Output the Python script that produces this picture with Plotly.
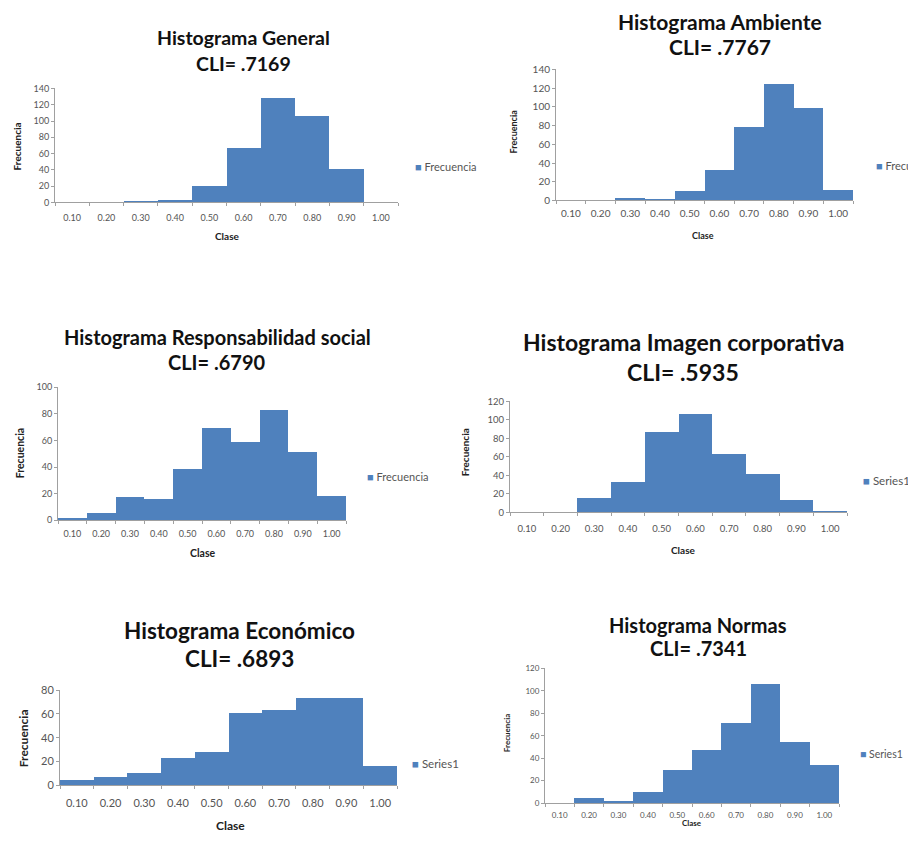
import plotly.graph_objects as go

# =========================
# DATOS
# =========================

clases = ["0.10", "0.20", "0.30", "0.40", "0.50", "0.60", "0.70", "0.80", "0.90", "1.00"]

general = [0, 0, 1, 2, 19, 66, 128, 105, 40, 0]
ambiente = [0, 0, 2, 1, 10, 32, 78, 124, 98, 11]
responsabilidad = [1, 5, 17, 16, 38, 69, 59, 83, 51, 18]
imagen = [0, 0, 15, 32, 87, 106, 63, 41, 13, 1]
economico = [4, 7, 10, 23, 28, 61, 63, 73, 73, 16]
normas = [0, 4, 1, 10, 29, 47, 71, 106, 54, 34]

titulos = [
    "Histograma General",
    "Histograma Ambiente",
    "Histograma Responsabilidad social",
    "Histograma Imagen corporativa",
    "Histograma Económico",
    "Histograma Normas",
]
cli = [".7169", ".7767", ".6790", ".5935", ".6893", ".7341"]
series = ["Frecuencia", "Frecuencia", "Frecuencia", "Series1", "Series1", "Series1"]
y_max = [140, 140, 100, 120, 80, 120]

valores = [general, ambiente, responsabilidad, imagen, economico, normas]

# =========================
# POSICIONES (pixeles de la captura)
# =========================

W, H = 916, 843
OFF_X = 8
OFF_Y, ESC_Y = 14.5, 0.985  # correccion vertical medida en la captura
AZUL = "#4f81bd"

# area de trazado x0, x1, y0 (arriba), y1 (abajo)
areas = [
    (55, 398, 88, 202),
    (556, 853, 69, 200),
    (58, 346, 387, 520),
    (510, 847, 401, 512),
    (60, 397, 690, 785),
    (545, 839, 668, 803),
]
# centro titulo x, y linea 1, y linea 2, tamano
pos_titulo = [
    (243, 37, 63, 19.5),
    (720, 21, 46, 21),
    (217, 337, 362, 20),
    (683, 342, 372, 23),
    (240, 630, 658, 22.5),
    (698, 625, 648, 20),
]
# "Frecuencia" x, y ; "Clase" x, y ; tamano
pos_ejes = [
    (17, 146, 227, 236, 10),
    (513, 131, 703, 235, 9),
    (20, 453, 202, 553, 10.5),
    (465, 452, 683, 550, 10),
    (23, 738, 230, 825, 12),
    (507, 733, 692, 823, 8),
]
# leyenda x, y, tamano
pos_leyenda = [
    (413, 166, 11),
    (874, 165, 11),
    (365, 476, 11),
    (861, 480, 11.5),
    (410, 763, 11.5),
    (858, 754, 10.5),
]
tam_tick = [9, 10, 9, 9.5, 11, 8]
sep_tick_x = [7, 4, 5, 7, 8, 4]


def px_x(v):
    return (v - OFF_X) / W


def px_y(v):
    return 1 - ((v - OFF_Y) / ESC_Y) / H


fig = go.Figure()
anotaciones = []

for i in range(6):
    n = "" if i == 0 else str(i + 1)
    x0, x1, y0, y1 = areas[i]

    fig.add_trace(
        go.Bar(
            x=clases,
            y=valores[i],
            name=series[i],
            marker_color=AZUL,
            marker_line_width=0,
            xaxis="x" + n,
            yaxis="y" + n,
            showlegend=False,
        )
    )

    fig.update_layout(
        {
            "xaxis" + n: dict(
                domain=[px_x(x0), px_x(x1)],
                anchor="y" + n,
                type="category",
                showline=True,
                linecolor="#a0a0a0",
                ticks="outside",
                tickson="boundaries",
                ticklen=3,
                tickcolor="#a0a0a0",
                ticklabelstandoff=sep_tick_x[i],
                tickfont=dict(family="Lato", size=tam_tick[i], color="#555555"),
                showgrid=False,
                fixedrange=True,
            ),
            "yaxis" + n: dict(
                domain=[px_y(y1), px_y(y0)],
                anchor="x" + n,
                range=[0, y_max[i]],
                dtick=20,
                showline=True,
                linecolor="#a0a0a0",
                ticks="outside",
                ticklen=3,
                tickcolor="#a0a0a0",
                tickfont=dict(family="Lato", size=tam_tick[i], color="#555555"),
                showgrid=False,
                zeroline=False,
                fixedrange=True,
            ),
        }
    )

    tx, ty1, ty2, ts = pos_titulo[i]
    anotaciones.append(dict(
        x=px_x(tx), y=px_y(ty1), xref="paper", yref="paper",
        text="<b>" + titulos[i] + "</b>", showarrow=False,
        font=dict(family="Lato", size=ts, color="#111111"),
        xanchor="center", yanchor="middle", borderpad=0,
    ))
    anotaciones.append(dict(
        x=px_x(tx), y=px_y(ty2), xref="paper", yref="paper",
        text="<b>CLI= " + cli[i] + "</b>", showarrow=False,
        font=dict(family="Lato", size=ts, color="#111111"),
        xanchor="center", yanchor="middle", borderpad=0,
    ))

    # titulos de ejes
    fx, fy, cx, cy, es = pos_ejes[i]
    anotaciones.append(dict(
        x=px_x(fx), y=px_y(fy), xref="paper", yref="paper",
        text="<b>Frecuencia</b>", textangle=-90, showarrow=False,
        font=dict(family="Lato", size=es, color="#222222"),
        xanchor="center", yanchor="middle",
    ))
    anotaciones.append(dict(
        x=px_x(cx), y=px_y(cy), xref="paper", yref="paper",
        text="<b>Clase</b>", showarrow=False,
        font=dict(family="Lato", size=es, color="#222222"),
        xanchor="center", yanchor="middle",
    ))

    # leyenda
    lx, ly, ls = pos_leyenda[i]
    anotaciones.append(dict(
        x=px_x(lx), y=px_y(ly), xref="paper", yref="paper",
        text="<span style='color:" + AZUL + "'>■</span> " + series[i], showarrow=False,
        font=dict(family="Lato", size=ls, color="#555555"),
        xanchor="left", yanchor="middle",
    ))

fig.update_layout(
    width=W,
    height=H,
    margin=dict(l=0, r=0, t=0, b=0),
    paper_bgcolor="white",
    plot_bgcolor="white",
    bargap=0,
    showlegend=False,
    annotations=anotaciones,
)

fig.write_html("out.html")
